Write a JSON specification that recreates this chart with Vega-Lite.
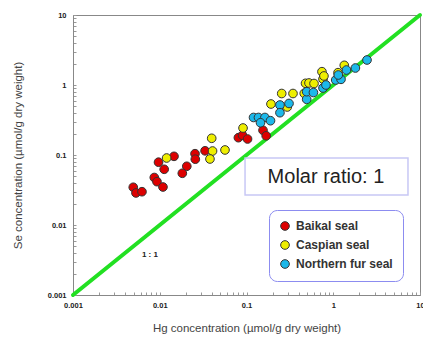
{
  "$schema": "https://vega.github.io/schema/vega-lite/v6.json",
  "width": 347,
  "height": 280,
  "autosize": "none",
  "padding": {"left": 73, "top": 15, "right": 3, "bottom": 43},
  "background": "white",
  "config": {
    "font": "Liberation Sans",
    "view": {"stroke": "#888888", "strokeWidth": 1},
    "axis": {
      "grid": false,
      "domainColor": "#888888",
      "tickColor": "#999999",
      "labelFont": "Liberation Sans",
      "labelFontWeight": "bold",
      "labelFontSize": 7.5,
      "labelColor": "#222222",
      "titleFont": "Liberation Sans",
      "titleFontWeight": "normal",
      "titleFontSize": 11.5,
      "titleColor": "#444444"
    }
  },
  "datasets": {
    "seals": [
      {"hg": 0.00495, "se": 0.0346, "species": "Baikal seal"},
      {"hg": 0.00532, "se": 0.0287, "species": "Baikal seal"},
      {"hg": 0.00624, "se": 0.0299, "species": "Baikal seal"},
      {"hg": 0.00865, "se": 0.0477, "species": "Baikal seal"},
      {"hg": 0.00929, "se": 0.0416, "species": "Baikal seal"},
      {"hg": 0.01089, "se": 0.0349, "species": "Baikal seal"},
      {"hg": 0.00968, "se": 0.0789, "species": "Baikal seal"},
      {"hg": 0.01125, "se": 0.0625, "species": "Baikal seal"},
      {"hg": 0.0146, "se": 0.0957, "species": "Baikal seal"},
      {"hg": 0.0205, "se": 0.069, "species": "Baikal seal"},
      {"hg": 0.0182, "se": 0.0548, "species": "Baikal seal"},
      {"hg": 0.0255, "se": 0.1044, "species": "Baikal seal"},
      {"hg": 0.0257, "se": 0.0871, "species": "Baikal seal"},
      {"hg": 0.0333, "se": 0.1148, "species": "Baikal seal"},
      {"hg": 0.0806, "se": 0.1767, "species": "Baikal seal"},
      {"hg": 0.09, "se": 0.191, "species": "Baikal seal"},
      {"hg": 0.1028, "se": 0.1693, "species": "Baikal seal"},
      {"hg": 0.155, "se": 0.2254, "species": "Baikal seal"},
      {"hg": 0.1686, "se": 0.188, "species": "Baikal seal"},
      {"hg": 0.012, "se": 0.0906, "species": "Caspian seal"},
      {"hg": 0.0397, "se": 0.1733, "species": "Caspian seal"},
      {"hg": 0.0406, "se": 0.114, "species": "Caspian seal"},
      {"hg": 0.0379, "se": 0.0877, "species": "Caspian seal"},
      {"hg": 0.0565, "se": 0.118, "species": "Caspian seal"},
      {"hg": 0.0912, "se": 0.243, "species": "Caspian seal"},
      {"hg": 0.1914, "se": 0.535, "species": "Caspian seal"},
      {"hg": 0.295, "se": 0.485, "species": "Caspian seal"},
      {"hg": 0.2547, "se": 0.756, "species": "Caspian seal"},
      {"hg": 0.3435, "se": 0.756, "species": "Caspian seal"},
      {"hg": 0.463, "se": 0.76, "species": "Caspian seal"},
      {"hg": 0.479, "se": 1.057, "species": "Caspian seal"},
      {"hg": 0.525, "se": 1.069, "species": "Caspian seal"},
      {"hg": 0.6, "se": 1.05, "species": "Caspian seal"},
      {"hg": 0.741, "se": 1.549, "species": "Caspian seal"},
      {"hg": 0.762, "se": 1.218, "species": "Caspian seal"},
      {"hg": 0.781, "se": 1.346, "species": "Caspian seal"},
      {"hg": 1.135, "se": 1.5, "species": "Caspian seal"},
      {"hg": 1.34, "se": 1.91, "species": "Caspian seal"},
      {"hg": 0.1205, "se": 0.3436, "species": "Northern fur seal"},
      {"hg": 0.1374, "se": 0.3436, "species": "Northern fur seal"},
      {"hg": 0.163, "se": 0.3436, "species": "Northern fur seal"},
      {"hg": 0.145, "se": 0.289, "species": "Northern fur seal"},
      {"hg": 0.189, "se": 0.309, "species": "Northern fur seal"},
      {"hg": 0.243, "se": 0.518, "species": "Northern fur seal"},
      {"hg": 0.309, "se": 0.545, "species": "Northern fur seal"},
      {"hg": 0.243, "se": 0.402, "species": "Northern fur seal"},
      {"hg": 0.494, "se": 0.625, "species": "Northern fur seal"},
      {"hg": 0.494, "se": 0.802, "species": "Northern fur seal"},
      {"hg": 0.591, "se": 0.781, "species": "Northern fur seal"},
      {"hg": 0.762, "se": 0.906, "species": "Northern fur seal"},
      {"hg": 0.824, "se": 1.0, "species": "Northern fur seal"},
      {"hg": 1.067, "se": 1.179, "species": "Northern fur seal"},
      {"hg": 1.228, "se": 1.205, "species": "Northern fur seal"},
      {"hg": 1.143, "se": 1.39, "species": "Northern fur seal"},
      {"hg": 1.42, "se": 1.637, "species": "Northern fur seal"},
      {"hg": 1.8, "se": 1.749, "species": "Northern fur seal"},
      {"hg": 2.45, "se": 2.276, "species": "Northern fur seal"}
    ]
  },
  "layer": [
    {
      "data": {"values": [{"hg": 0.001, "se": 0.001}, {"hg": 10, "se": 10}]},
      "mark": {"type": "line", "color": "#22e022", "strokeWidth": 4, "strokeCap": "round"},
      "encoding": {
        "x": {
          "field": "hg", "type": "quantitative",
          "scale": {"type": "log", "domain": [0.001, 10], "nice": false},
          "axis": {
            "title": "Hg concentration (µmol/g dry weight)",
            "values": [0.001,0.002,0.003,0.004,0.005,0.006,0.007,0.008,0.009,0.01,0.02,0.03,0.04,0.05,0.06,0.07,0.08,0.09,0.1,0.2,0.3,0.4,0.5,0.6,0.7,0.8,0.9,1,2,3,4,5,6,7,8,9,10],
            "labelExpr": "abs(log(datum.value)/LN10 - round(log(datum.value)/LN10)) < 0.001 ? format(datum.value, '~g') : ''",
            "tickSize": -3,
            "labelPadding": 9,
            "titlePadding": 14,
            "labelFlush": false,
            "labelOverlap": false
          }
        },
        "y": {
          "field": "se", "type": "quantitative",
          "scale": {"type": "log", "domain": [0.001, 10], "nice": false},
          "axis": {
            "title": "Se concentration (µmol/g dry weight)",
            "values": [0.001,0.002,0.003,0.004,0.005,0.006,0.007,0.008,0.009,0.01,0.02,0.03,0.04,0.05,0.06,0.07,0.08,0.09,0.1,0.2,0.3,0.4,0.5,0.6,0.7,0.8,0.9,1,2,3,4,5,6,7,8,9,10],
            "labelExpr": "abs(log(datum.value)/LN10 - round(log(datum.value)/LN10)) < 0.001 ? format(datum.value, '~g') : ''",
            "tickSize": -3,
            "labelPadding": 10,
            "titlePadding": 24,
            "labelFlush": false,
            "labelOverlap": false
          }
        }
      }
    },
    {
      "data": {"values": [{"x1": 0.0962, "x2": 7.27, "y1": 0.0268, "y2": 0.0906}]},
      "mark": {"type": "rect", "fill": "white", "stroke": "#c8c8f5", "strokeWidth": 1.5},
      "encoding": {
        "x": {"field": "x1", "type": "quantitative"},
        "x2": {"field": "x2"},
        "y": {"field": "y1", "type": "quantitative"},
        "y2": {"field": "y2"}
      }
    },
    {
      "data": {"values": [{"x": 0.824, "y": 0.0485, "label": "Molar ratio: 1"}]},
      "mark": {"type": "text", "fontSize": 20, "color": "#222222", "font": "Liberation Sans"},
      "encoding": {
        "x": {"field": "x", "type": "quantitative"},
        "y": {"field": "y", "type": "quantitative"},
        "text": {"field": "label"}
      }
    },
    {
      "data": {"values": [{"x": 0.0077, "y": 0.0037, "label": "1 : 1"}]},
      "mark": {"type": "text", "fontSize": 8, "fontWeight": "bold", "color": "#222222"},
      "encoding": {
        "x": {"field": "x", "type": "quantitative"},
        "y": {"field": "y", "type": "quantitative"},
        "text": {"field": "label"}
      }
    },
    {
      "data": {"name": "seals"},
      "mark": {"type": "point", "shape": "circle", "filled": true, "size": 75, "opacity": 1, "stroke": "#333333", "strokeWidth": 1},
      "encoding": {
        "x": {"field": "hg", "type": "quantitative"},
        "y": {"field": "se", "type": "quantitative"},
        "fill": {
          "field": "species", "type": "nominal",
          "scale": {"domain": ["Baikal seal", "Caspian seal", "Northern fur seal"], "range": ["#dd0000", "#eeee00", "#1cb8ea"]},
          "legend": {
            "title": null,
            "orient": "none",
            "legendX": 196,
            "legendY": 195,
            "fillColor": "white",
            "strokeColor": "#8c8cf0",
            "cornerRadius": 8,
            "padding": 10,
            "rowPadding": 5,
            "symbolType": "circle",
            "symbolSize": 75,
            "symbolStrokeColor": "#333333",
            "symbolStrokeWidth": 1,
            "labelFont": "Liberation Sans",
            "labelFontWeight": "bold",
            "labelFontSize": 12,
            "labelColor": "#333333",
            "labelOffset": 5
          }
        }
      }
    }
  ]
}
